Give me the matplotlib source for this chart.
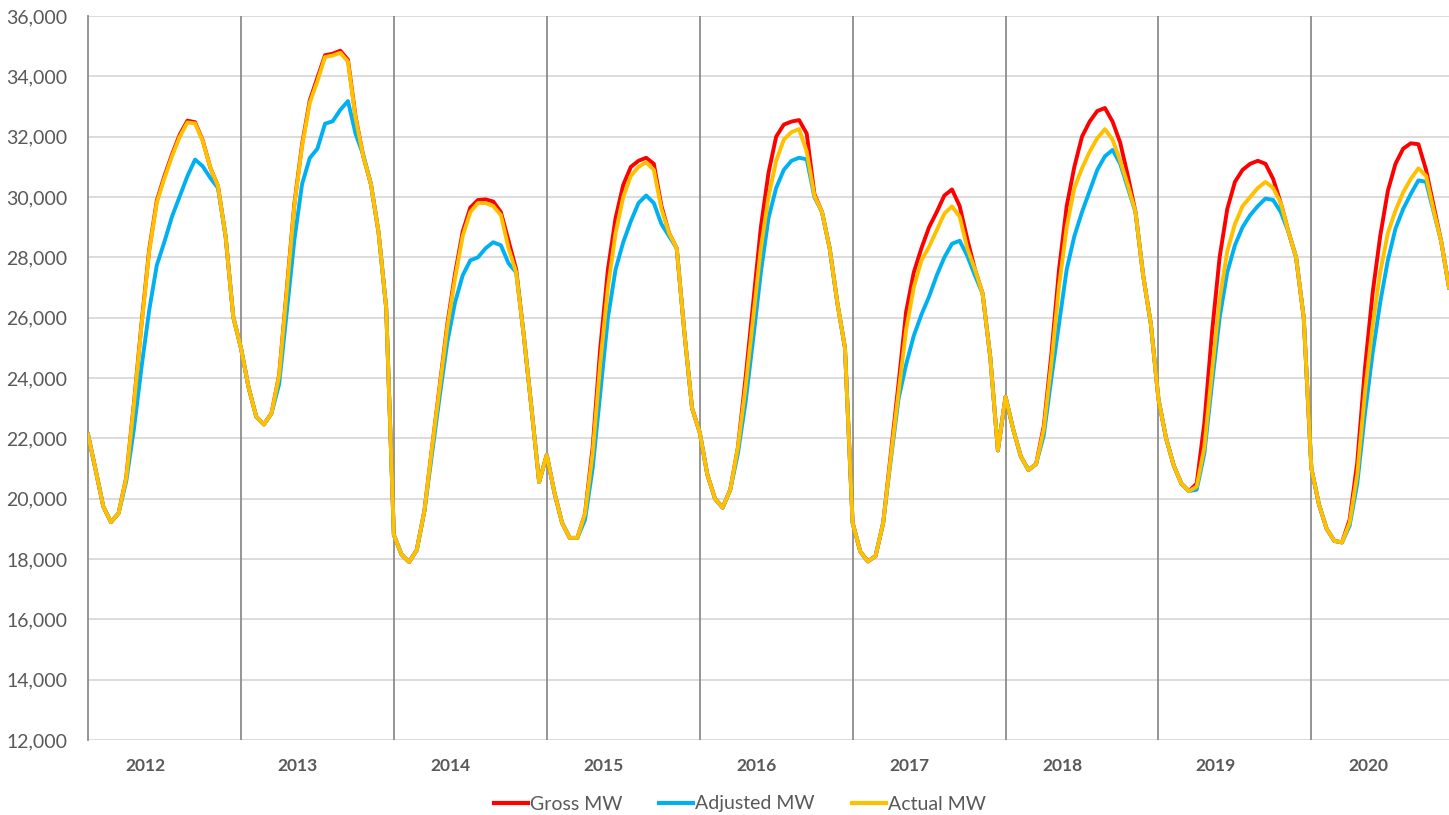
import numpy as np
import matplotlib
matplotlib.use('Agg')
import matplotlib.pyplot as plt

years = ['2012', '2013', '2014', '2015', '2016', '2017', '2018', '2019', '2020']

# values read per year (about 20 samples per year, 2020 partial)
gross_mw = [
    [22130, 20950, 19740, 19220, 19520, 20700, 23150, 25800, 28250, 29880, 30700, 31420, 32070, 32530, 32480, 31880, 30970, 30360, 28690, 26020],
    [25000, 23690, 22720, 22460, 22830, 24100, 26950, 29800, 31750, 33200, 33950, 34700, 34750, 34850, 34550, 32650, 31350, 30430, 28830, 26320],
    [18800, 18150, 17900, 18300, 19600, 21700, 23750, 25800, 27450, 28850, 29650, 29900, 29920, 29850, 29500, 28550, 27600, 25400, 23000, 20550],
    [21450, 20200, 19200, 18700, 18700, 19500, 21700, 25000, 27600, 29300, 30400, 31000, 31200, 31300, 31100, 29700, 28800, 28300, 25500, 23000],
    [22200, 20800, 20000, 19700, 20300, 21700, 24000, 26500, 29000, 30800, 32000, 32400, 32500, 32550, 32100, 30100, 29500, 28300, 26500, 25000],
    [19200, 18250, 17920, 18100, 19200, 21500, 23800, 26200, 27500, 28300, 29000, 29500, 30050, 30250, 29700, 28600, 27600, 26800, 24700, 21600],
    [23380, 22300, 21400, 20950, 21150, 22400, 24800, 27600, 29700, 31000, 32000, 32500, 32850, 32950, 32500, 31800, 30700, 29500, 27400, 25800],
    [23300, 22000, 21100, 20500, 20250, 20500, 22500, 25500, 28000, 29600, 30500, 30900, 31100, 31200, 31100, 30600, 29800, 28850, 28000, 26000],
    [21000, 19800, 19000, 18600, 18550, 19300, 21200, 24300, 26800, 28700, 30200, 31100, 31600, 31780, 31750, 30900, 29700, 28500, 27000],
]
adjusted_mw = [
    [22130, 20950, 19740, 19220, 19520, 20580, 22300, 24360, 26240, 27740, 28520, 29360, 30020, 30690, 31240, 31020, 30630, 30300, 28690, 26020],
    [25000, 23690, 22720, 22460, 22830, 23800, 26200, 28600, 30430, 31290, 31600, 32430, 32510, 32890, 33180, 32090, 31400, 30430, 28830, 26320],
    [18800, 18150, 17900, 18300, 19600, 21500, 23400, 25200, 26500, 27400, 27900, 28000, 28300, 28500, 28400, 27800, 27500, 25400, 23000, 20550],
    [21450, 20200, 19200, 18700, 18700, 19300, 21000, 23500, 26000, 27600, 28500, 29200, 29800, 30050, 29800, 29100, 28700, 28300, 25500, 23000],
    [22200, 20800, 20000, 19700, 20300, 21500, 23200, 25300, 27500, 29300, 30300, 30900, 31200, 31300, 31250, 30000, 29500, 28300, 26500, 25000],
    [19200, 18250, 17920, 18100, 19200, 21300, 23300, 24450, 25400, 26100, 26700, 27400, 28000, 28450, 28550, 28050, 27400, 26800, 24700, 21600],
    [23380, 22300, 21400, 20950, 21150, 22100, 24000, 25800, 27600, 28700, 29500, 30200, 30900, 31350, 31560, 31100, 30300, 29500, 27400, 25800],
    [23300, 22000, 21100, 20500, 20250, 20300, 21500, 23800, 26000, 27500, 28400, 29000, 29400, 29700, 29950, 29900, 29500, 28850, 28000, 26000],
    [21000, 19800, 19000, 18600, 18550, 19100, 20500, 22800, 24800, 26500, 27900, 28950, 29600, 30100, 30550, 30500, 29500, 28500, 27000],
]
actual_mw = [
    [22130, 20950, 19740, 19220, 19520, 20690, 23110, 25740, 28190, 29820, 30630, 31360, 32000, 32470, 32440, 31860, 30970, 30360, 28690, 26020],
    [25000, 23690, 22720, 22460, 22830, 24090, 26890, 29750, 31690, 33120, 33840, 34640, 34690, 34780, 34490, 32610, 31350, 30430, 28830, 26320],
    [18800, 18150, 17900, 18300, 19600, 21700, 23700, 25700, 27300, 28700, 29500, 29800, 29800, 29700, 29400, 28300, 27500, 25400, 23000, 20550],
    [21450, 20200, 19200, 18700, 18700, 19500, 21500, 24500, 27000, 28800, 30000, 30700, 31000, 31150, 30900, 29600, 28800, 28300, 25500, 23000],
    [22200, 20800, 20000, 19700, 20300, 21700, 23700, 26000, 28300, 30000, 31200, 31900, 32150, 32250, 31500, 30050, 29500, 28300, 26500, 25000],
    [19200, 18250, 17920, 18100, 19200, 21400, 23500, 25600, 27000, 27900, 28350, 28900, 29450, 29690, 29350, 28300, 27600, 26800, 24700, 21600],
    [23380, 22300, 21400, 20950, 21150, 22300, 24500, 27040, 29000, 30300, 30950, 31500, 31950, 32250, 31900, 31200, 30400, 29500, 27400, 25800],
    [23300, 22000, 21100, 20500, 20250, 20400, 21700, 24200, 26600, 28200, 29100, 29700, 30000, 30300, 30500, 30300, 29800, 28850, 28000, 26000],
    [21000, 19800, 19000, 18600, 18550, 19200, 20800, 23500, 25700, 27500, 28800, 29550, 30150, 30600, 30950, 30700, 29550, 28500, 27000],
]

gross = np.concatenate(gross_mw)
adjusted = np.concatenate(adjusted_mw)
actual = np.concatenate(actual_mw)
x = np.arange(len(actual))

plt.rcParams['font.family'] = ['Lato', 'DejaVu Sans']
txt = '#595959'

fig = plt.figure(figsize=(14.49, 8.15), dpi=100)
ax = fig.add_axes([88 / 1449, 1 - 740 / 815, (1449 - 88) / 1449, (740 - 16) / 815])

ax.set_ylim(12000, 36000)
ax.set_xlim(0, len(actual) - 1)
ax.set_yticks(np.arange(12000, 36001, 2000))
ax.set_yticklabels([f'{v:,}' for v in range(12000, 36001, 2000)], color=txt, fontsize=14)
ax.yaxis.grid(True, color='#D9D9D9', lw=1.3)
ax.set_axisbelow(True)
ax.tick_params(axis='y', length=0, pad=15)
ax.set_xticks([])
for s in ['top', 'right', 'bottom']:
    ax.spines[s].set_visible(False)
ax.spines['left'].set_color('#8C8C8C')
ax.spines['left'].set_linewidth(1.3)

# year separators and labels
start = 0
for i, yr in enumerate(years):
    n = len(actual_mw[i])
    if i > 0:
        ax.axvline(start, color='#8C8C8C', lw=1.3, zorder=1)
    ax.text(start + 7.45, -0.036, yr, transform=ax.get_xaxis_transform(),
            ha='center', va='center', fontsize=12.5, fontweight='bold', color=txt)
    start += n

ax.plot(x, gross, color='#FF0000', lw=2.8, label='Gross MW', zorder=3)
ax.plot(x, adjusted, color='#00B0F0', lw=2.8, label='Adjusted MW', zorder=4)
ax.plot(x, actual, color='#FFC000', lw=2.8, label='Actual MW', zorder=5)

leg = fig.legend(loc='center', bbox_to_anchor=(740 / 1449, 1 - 804 / 815), ncol=3,
                 frameon=False, fontsize=14, handlelength=1.75, handletextpad=0.1,
                 columnspacing=1.9)
for t in leg.get_texts():
    t.set_color(txt)
for h in leg.get_lines():
    h.set_linewidth(3)

fig.savefig('out.png', dpi=100)
